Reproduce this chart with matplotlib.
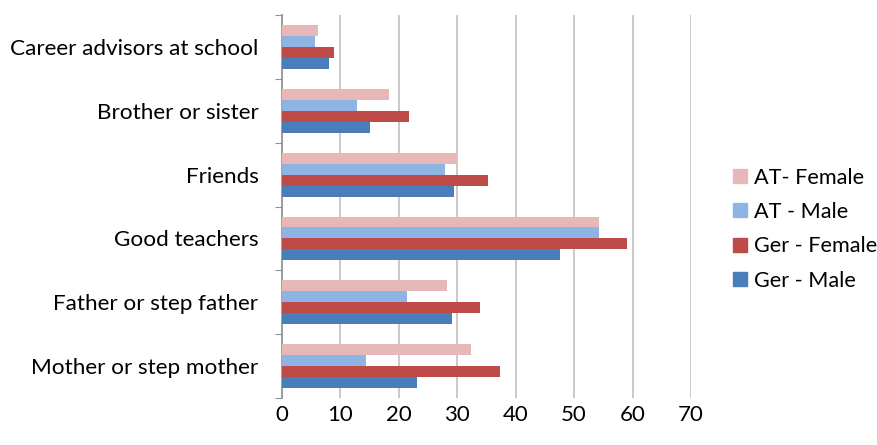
import numpy as np
import matplotlib.pyplot as plt
from matplotlib.patches import Patch

plt.rcParams['font.family'] = ['Lato', 'DejaVu Sans']

categories = ['Mother or step mother', 'Father or step father', 'Good teachers',
              'Friends', 'Brother or sister', 'Career advisors at school']

ger_male = [23.1, 29.1, 47.6, 29.4, 15.1, 8.1]
ger_female = [37.3, 33.9, 59.0, 35.2, 21.7, 8.9]
at_male = [14.4, 21.4, 54.3, 27.9, 12.8, 5.7]
at_female = [32.3, 28.3, 54.3, 29.9, 18.3, 6.2]

series = [
    ('Ger - Male', ger_male, '#4a7ebb'),
    ('Ger - Female', ger_female, '#be4b48'),
    ('AT - Male', at_male, '#8db4e2'),
    ('AT- Female', at_female, '#e6b9b8'),
]

fig = plt.figure(figsize=(8.78, 4.45), dpi=100)
ax = fig.add_axes([0.3212, 0.1056, 0.4658, 0.8604])

y = np.arange(len(categories))
h = 0.172
offsets = np.array([-1.5, -0.5, 0.5, 1.5]) * h
for (name, vals, col), off in zip(series, offsets):
    ax.barh(y + off, vals, height=h, color=col, zorder=3)

ax.set_xlim(0, 70)
ax.set_ylim(-0.5, len(categories) - 0.5)
ax.set_xticks(range(0, 71, 10))
ax.grid(axis='x', color='#c0c0c0', linewidth=1.2, zorder=0)

# category ticks sit at the band boundaries, labels in the middle
ax.set_yticks(np.arange(-0.5, len(categories), 1.0))
ax.set_yticklabels([])
ax.set_yticks(y, minor=True)
ax.set_yticklabels(categories, minor=True, fontsize=16.2)
ax.tick_params(axis='y', which='minor', length=0, pad=17)
ax.tick_params(axis='y', which='major', length=5, color='#909090')
ax.tick_params(axis='x', length=0, labelsize=16, pad=5)

for s in ['top', 'right', 'bottom']:
    ax.spines[s].set_visible(False)
ax.spines['left'].set_color('#909090')
ax.spines['left'].set_linewidth(1.2)

handles = [Patch(color=col, label=name) for name, vals, col in series[::-1]]
fig.legend(handles=handles, loc='center left', bbox_to_anchor=(0.823, 0.485),
           frameon=False, fontsize=15.6, handlelength=0.62, handleheight=0.62,
           handletextpad=0.32, labelspacing=0.66, borderpad=0)

fig.savefig('out.png', dpi=100, facecolor='white')
